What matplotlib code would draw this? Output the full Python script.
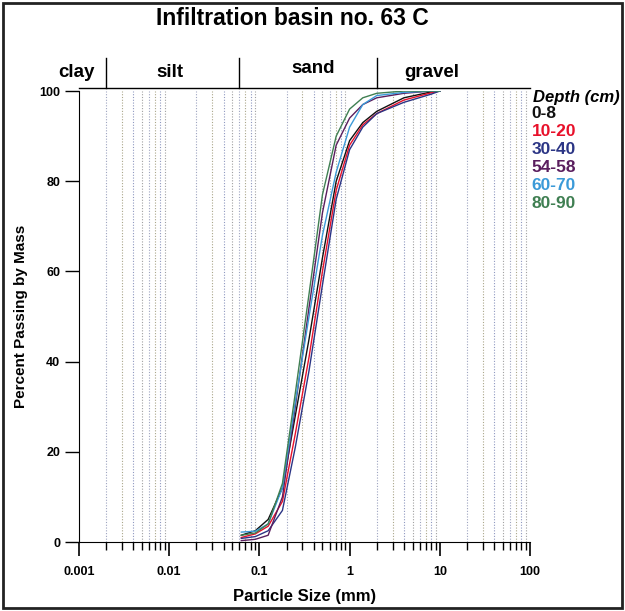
import numpy as np
import matplotlib
matplotlib.use("Agg")
import matplotlib.pyplot as plt
import matplotlib.ticker as mticker

plt.rcParams["font.family"] = ["Liberation Sans Narrow", "Liberation Sans", "DejaVu Sans"]

# tamanhos de peneira (mm)
sieves = [0.063, 0.09, 0.125, 0.18, 0.25, 0.355, 0.5, 0.71, 1.0, 1.4, 2.0, 4.0, 8.0, 10.0]

# % passante por profundidade
depth_labels = ["0-8", "10-20", "30-40", "54-58", "60-70", "80-90"]
depth_colors = ["#111111", "#e8102a", "#2b3585", "#5a1e5e", "#3b9ad8", "#3f7f52"]
pass_0_8 = [1.5, 2.5, 5.0, 12, 28, 45, 63, 80, 89, 93, 95.5, 98.5, 99.8, 100]
pass_10_20 = [1.0, 1.8, 3.5, 9, 24, 41, 60, 78, 88, 92.5, 95, 98, 99.6, 100]
pass_30_40 = [0.8, 1.2, 2.5, 7, 21, 38, 57, 76, 87, 92, 95, 97.5, 99.3, 100]
pass_54_58 = [0.3, 0.6, 1.5, 10, 30, 52, 73, 88, 94, 97, 98.5, 99.5, 100, 100]
pass_60_70 = [2.2, 2.4, 4.0, 12, 31, 50, 68, 82, 92, 97, 99, 99.7, 100, 100]
pass_80_90 = [1.5, 2.0, 4.0, 13, 33, 55, 77, 90, 96, 98.5, 99.5, 100, 100, 100]
series = [pass_0_8, pass_10_20, pass_30_40, pass_54_58, pass_60_70, pass_80_90]

# limites das classes granulométricas
class_bounds = [0.002, 0.06, 2.0]
class_names = ["clay", "silt", "sand", "gravel"]
class_pos = [0.00093, 0.0102, 0.39, 8.2]

fig = plt.figure(figsize=(6.25, 6.11), dpi=100)
ax = fig.add_axes([0.1264, 0.1129, 0.7216, 0.7381])

# linhas de grade verticais pontilhadas
grid_cols = ["#9ea4c0", "#aaa68a", "#8f98c0", "#a0a0a0"]
k = 0
for dec in [0.001, 0.01, 0.1, 1, 10]:
    for m in range(2, 10):
        ax.axvline(dec * m, color=grid_cols[k % 4], lw=0.8, ls=(0, (1, 1.5)), zorder=1)
        k += 1

for vals, col in zip(series, depth_colors):
    ax.plot(sieves, vals, color=col, lw=1.0, zorder=3)

ax.set_xscale("log")
ax.set_xlim(0.001, 100)
ax.set_ylim(0, 100)
ax.set_xticks([0.001, 0.01, 0.1, 1, 10, 100])
ax.set_xticklabels(["0.001", "0.01", "0.1", "1", "10", "100"])
ax.xaxis.set_minor_locator(mticker.LogLocator(base=10, subs=np.arange(2, 10)))
ax.xaxis.set_minor_formatter(mticker.NullFormatter())
ax.set_yticks([0, 20, 40, 60, 80, 100])
ax.tick_params(axis="x", which="major", length=10, width=1.2, pad=7, labelsize=9)
ax.tick_params(axis="x", which="minor", length=6, width=1.0)
ax.tick_params(axis="y", length=10, width=1.0, labelsize=9)
for lab in ax.get_xticklabels() + ax.get_yticklabels():
    lab.set_fontweight("bold")
ax.spines["top"].set_visible(False)
ax.spines["right"].set_visible(False)
ax.set_xlabel("Particle Size (mm)", fontsize=12, fontweight="bold", labelpad=8)
ax.set_ylabel("Percent Passing by Mass", fontsize=11, fontweight="bold", labelpad=8)

# faixa das classes no topo
tr = ax.get_xaxis_transform()
ax.plot([0.001, 100], [1.0067, 1.0067], color="black", lw=1.0, transform=tr, clip_on=False)
for b in class_bounds:
    ax.plot([b, b], [1.0067, 1.073], color="black", lw=1.0, transform=tr, clip_on=False)
for name, pos in zip(class_names, class_pos):
    yy = 1.04 if name != "sand" else 1.05
    ax.text(pos, yy, name, transform=tr, ha="center", va="center",
            fontsize=13.5, fontweight="bold")

fig.text(0.467, 0.970, "Infiltration basin no. 63 C", ha="center", va="center",
         fontsize=16.5, fontweight="bold")

# legenda em texto
fig.text(0.853, 0.841, "Depth (cm)", fontsize=12, fontweight="bold", style="italic",
         ha="left", va="center", family=["Liberation Sans", "DejaVu Sans"])
for i, (lab, col) in enumerate(zip(depth_labels, depth_colors)):
    fig.text(0.851, 0.815 - i * 0.0295, lab, color=col, fontsize=12.5, fontweight="bold",
             ha="left", va="center")

# moldura externa
fig.patches.append(plt.Rectangle((0.005, 0.005), 0.99, 0.99, transform=fig.transFigure,
                                 fill=False, edgecolor="#222222", lw=2))

fig.savefig("out.png", dpi=100)
